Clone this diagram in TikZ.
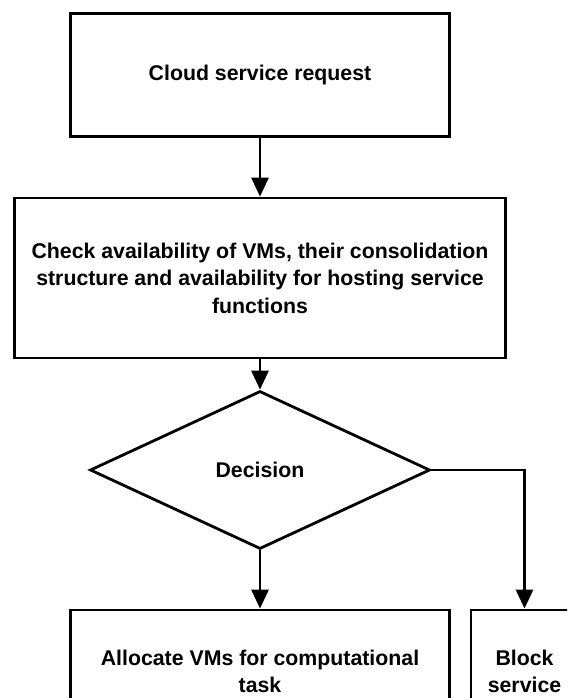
\documentclass[tikz,border=0pt]{standalone}
\usepackage{fontspec}
\setmainfont{Liberation Sans}
\usetikzlibrary{shapes.geometric,arrows.meta}

\begin{document}
\begin{tikzpicture}[x=1pt,y=-1pt,->,>={Triangle[length=19pt,width=17pt]},
		line width=2.8pt,
		box node/.style={rectangle,draw,inner sep=0pt,align=center,
			font=\bfseries\fontsize{21.3}{27.5}\selectfont},
		decision node/.style={diamond,draw,inner sep=0pt,
			font=\bfseries\fontsize{21.3}{27.5}\selectfont}]
		
		\clip (0,0) rectangle (567,698);
		\fill[white] (0,0) rectangle (567,698);
		
		\node[box node,minimum width=379pt,minimum height=123pt] (req) at (260,75) {Cloud service request};
		\node[box node,minimum width=491pt,minimum height=160pt] (check) at (260,278)
			{Check availability of VMs, their consolidation\\structure and availability for hosting service\\functions};
		\node[decision node,minimum width=340pt,minimum height=158pt] (dec) at (260,470) {Decision};
		\node[box node,minimum width=379pt,minimum height=123pt] (alloc) at (260,671.5)
			{Allocate VMs for computational\\task};
		\node[box node,minimum width=107pt,minimum height=123pt] (block) at (524.5,671.5)
			{Block\\service};
		
		\path
		(req) edge (check)
		(check) edge (dec)
		(dec) edge (alloc);
		\draw (dec.east) -| (block.north);
		\end{tikzpicture}
\end{document}
